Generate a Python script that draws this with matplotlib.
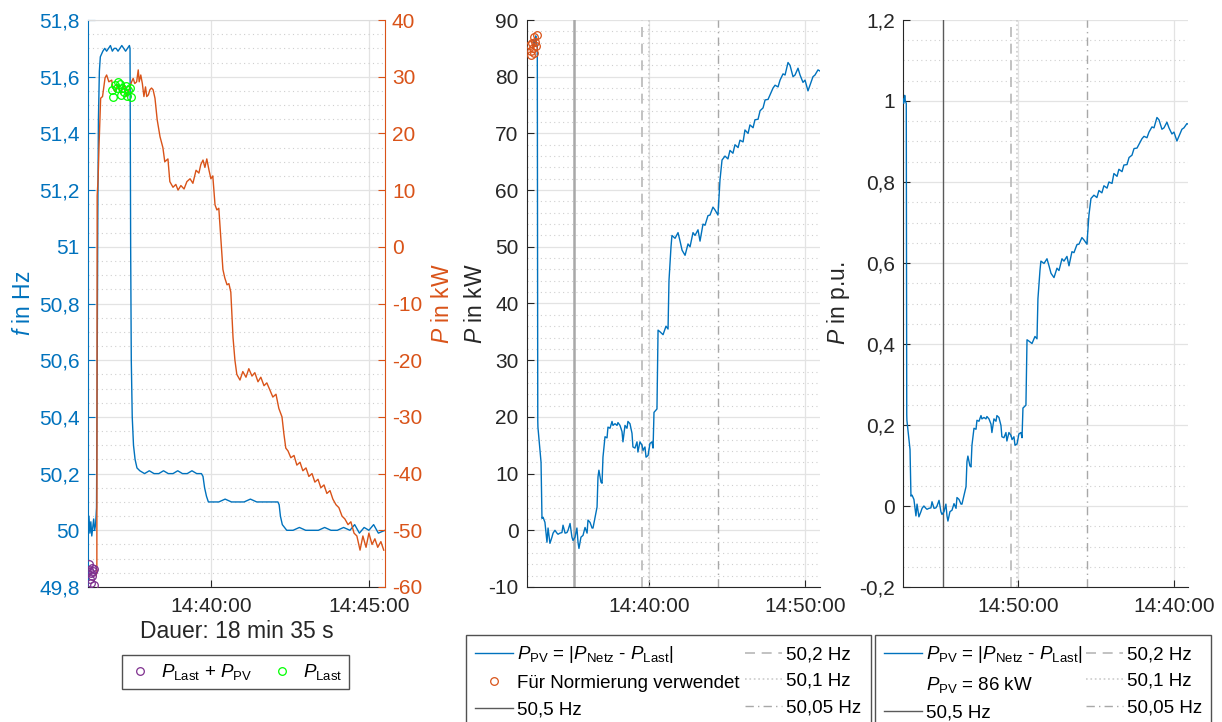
import matplotlib
matplotlib.use('Agg')
import matplotlib.pyplot as plt
from matplotlib.lines import Line2D
from matplotlib.ticker import MultipleLocator

plt.rcParams['font.family'] = ['Liberation Sans', 'DejaVu Sans']
plt.rcParams['mathtext.fontset'] = 'custom'
plt.rcParams['mathtext.rm'] = 'Liberation Sans'
plt.rcParams['mathtext.it'] = 'Liberation Sans:italic'
plt.rcParams['mathtext.bf'] = 'Liberation Sans:bold'

# ---------------- data (time in minutes after 14:00) ----------------
f_time = [36.11, 36.14, 36.17, 36.20, 36.23, 36.26, 36.29, 36.32, 36.35, 36.38,
          36.40, 36.42, 36.44, 36.47, 36.50, 36.54, 36.58, 36.64, 36.70, 36.76,
          36.82, 36.88, 36.94, 37.00, 37.06, 37.12, 37.18, 37.24, 37.30, 37.36,
          37.42, 37.44, 37.46, 37.48, 37.51, 37.55, 37.60, 37.66, 37.75, 37.90,
          38.05, 38.20, 38.35, 38.50, 38.65, 38.80, 38.95, 39.10, 39.25, 39.40,
          39.55, 39.70, 39.75, 39.80, 39.86, 39.92, 40.05, 40.25, 40.45, 40.65,
          40.85, 41.05, 41.25, 41.45, 41.65, 41.85, 42.05, 42.12, 42.16, 42.20,
          42.26, 42.33, 42.40, 42.60, 42.80, 43.00, 43.20, 43.40, 43.60, 43.80,
          44.00, 44.20, 44.40, 44.55, 44.70, 44.85, 45.00, 45.15, 45.30, 45.51]
f_hz = [50.02, 50.05, 49.99, 50.03, 49.98, 50.01, 50.04, 50.00, 50.02, 50.08,
        50.55, 51.10, 51.45, 51.62, 51.67, 51.68, 51.69, 51.70, 51.69, 51.70,
        51.71, 51.69, 51.70, 51.70, 51.69, 51.70, 51.71, 51.70, 51.69, 51.70,
        51.71, 51.70, 51.00, 50.60, 50.40, 50.30, 50.25, 50.22, 50.21, 50.20,
        50.21, 50.20, 50.20, 50.21, 50.20, 50.20, 50.21, 50.20, 50.20, 50.21,
        50.20, 50.20, 50.19, 50.15, 50.12, 50.10, 50.10, 50.10, 50.11, 50.10,
        50.10, 50.10, 50.11, 50.10, 50.10, 50.10, 50.10, 50.10, 50.09, 50.05,
        50.02, 50.01, 50.00, 50.00, 50.01, 50.00, 50.00, 50.00, 50.01, 50.00,
        50.00, 50.01, 50.00, 50.02, 49.99, 50.01, 50.00, 50.02, 49.99, 50.00]

p_time = [36.36, 36.39, 36.40, 36.43, 36.46, 36.51, 36.57, 36.65, 36.70, 36.77,
          36.86, 36.90, 36.96, 37.06, 37.15, 37.25, 37.34, 37.44, 37.49, 37.54,
          37.59, 37.65, 37.70, 37.73, 37.78, 37.83, 37.88, 37.93, 37.97, 38.02,
          38.07, 38.12, 38.17, 38.23, 38.30, 38.39, 38.48, 38.54, 38.64, 38.70,
          38.80, 38.89, 38.96, 39.05, 39.15, 39.24, 39.34, 39.43, 39.53, 39.62,
          39.68, 39.75, 39.81, 39.87, 39.94, 40.00, 40.06, 40.13, 40.19, 40.25,
          40.32, 40.38, 40.44, 40.51, 40.57, 40.63, 40.70, 40.76, 40.82, 40.92,
          41.01, 41.11, 41.20, 41.30, 41.39, 41.49, 41.58, 41.68, 41.77, 41.87,
          41.96, 42.06, 42.15, 42.25, 42.31, 42.37, 42.44, 42.53, 42.63, 42.72,
          42.82, 42.91, 43.01, 43.10, 43.20, 43.29, 43.39, 43.48, 43.58, 43.67,
          43.77, 43.86, 43.96, 44.05, 44.15, 44.24, 44.34, 44.43, 44.53, 44.62,
          44.72, 44.81, 44.91, 45.00, 45.10, 45.19, 45.28, 45.38, 45.47]
p_kw = [-58.0, -57.5, 9.0, 12.0, 18.0, 26.2, 26.5, 29.8, 30.3, 29.1,
        29.4, 28.0, 27.4, 28.5, 27.0, 28.8, 26.5, 28.2, 29.1, 29.7,
        28.8, 29.1, 31.2, 29.1, 30.3, 28.8, 26.5, 28.2, 26.5, 26.8,
        27.7, 28.0, 27.7, 26.2, 22.4, 19.4, 17.5, 15.0, 15.5, 11.5,
        10.5, 11.0, 10.0, 10.8, 10.2, 11.5, 12.0, 11.2, 13.5, 13.0,
        14.5, 15.3, 14.0, 15.5, 13.5, 12.0, 12.5, 7.4, 6.5, 6.8,
        1.0, -4.0, -5.5, -6.7, -6.5, -8.0, -16.0, -20.0, -22.5, -23.5,
        -22.0, -23.0, -21.5, -22.8, -22.2, -23.8, -23.0, -24.5, -24.0, -25.3,
        -26.5, -26.0, -28.5, -30.0, -33.0, -35.5, -36.0, -37.2, -36.8, -38.5,
        -38.0, -39.5, -39.0, -40.5, -40.0, -41.5, -41.0, -42.5, -42.0, -43.5,
        -43.0, -44.5, -45.5, -46.0, -47.5, -48.0, -49.0, -48.5, -50.5, -51.0,
        -53.5, -51.0, -53.0, -50.5, -52.5, -51.5, -53.0, -52.0, -53.5]

sum_time = [36.13, 36.15, 36.17, 36.19, 36.21, 36.23, 36.25, 36.27, 36.29, 36.31]
sum_kw = [-57.0, -55.9, -58.6, -57.5, -59.3, -56.6, -58.0, -57.2, -59.6, -56.8]

last_time = [36.87, 36.90, 36.96, 37.03, 37.06, 37.12, 37.15, 37.18, 37.25, 37.31, 37.34, 37.37, 37.44, 37.47]
last_kw = [27.7, 26.4, 28.5, 28.0, 29.1, 28.7, 26.8, 28.0, 27.3, 28.4, 26.6, 27.7, 28.0, 26.4]

pv_time = [32.55, 32.62, 32.68, 32.74, 32.78, 32.84, 32.87, 32.88, 32.95, 33.08,
           33.14, 33.21, 33.33, 33.46, 33.53, 33.65, 33.78, 33.85, 33.97, 34.10,
           34.17, 34.29, 34.42, 34.49, 34.62, 34.74, 34.81, 34.94, 35.06, 35.13,
           35.26, 35.38, 35.45, 35.51, 35.64, 35.77, 35.90, 36.03, 36.09, 36.22,
           36.35, 36.41, 36.54, 36.67, 36.73, 36.79, 36.92, 36.99, 37.05, 37.18,
           37.31, 37.37, 37.50, 37.63, 37.69, 37.82, 37.95, 38.01, 38.14, 38.27,
           38.33, 38.46, 38.59, 38.65, 38.78, 38.91, 38.97, 39.10, 39.23, 39.29,
           39.42, 39.55, 39.62, 39.74, 39.81, 39.94, 40.06, 40.19, 40.26, 40.32,
           40.51, 40.58, 40.71, 40.90, 41.09, 41.22, 41.28, 41.41, 41.47, 41.67,
           41.86, 41.99, 42.12, 42.31, 42.50, 42.63, 42.82, 42.95, 43.14, 43.27,
           43.46, 43.59, 43.78, 43.91, 44.10, 44.23, 44.42, 44.55, 44.68, 44.87,
           45.06, 45.19, 45.38, 45.51, 45.71, 45.83, 46.03, 46.15, 46.35, 46.47,
           46.67, 46.79, 46.99, 47.12, 47.31, 47.44, 47.63, 47.76, 47.95, 48.08,
           48.27, 48.40, 48.59, 48.72, 48.91, 49.04, 49.23, 49.36, 49.55, 49.68,
           49.87, 50.00, 50.19, 50.32, 50.51, 50.64, 50.83, 50.96]
pv_kw = [85.0, 86.5, 85.5, 87.2, 86.0, 85.5, 19.4, 18.2, 16.0, 12.0,
         2.1, 2.3, 1.4, -2.1, 0.4, -2.3, -1.2, -0.5, 0.0, -0.5,
         -0.7, -0.5, -0.4, 0.9, -0.5, -0.4, 0.0, 1.2, -1.2, -1.8,
         -1.2, 0.4, -2.1, -3.2, -1.2, -0.9, 0.5, -0.5, 1.8, 1.4,
         0.4, 0.4, 2.3, 4.1, 9.4, 10.6, 8.5, 8.3, 12.9, 16.5,
         16.3, 18.2, 18.0, 19.2, 18.5, 18.8, 18.5, 19.0, 18.5, 17.4,
         15.6, 18.5, 18.0, 19.2, 18.8, 17.1, 14.7, 14.5, 15.6, 13.8,
         15.6, 15.0, 14.1, 14.7, 12.9, 13.2, 15.3, 15.6, 14.5, 20.8,
         21.4, 35.3, 35.0, 34.5, 36.0, 35.5, 44.0, 50.0, 52.0, 51.5,
         52.5, 51.0, 49.4, 48.5, 50.5, 50.0, 52.5, 52.0, 53.0, 51.0,
         54.0, 53.8, 55.5, 55.6, 57.0, 56.5, 55.6, 61.8, 65.3, 66.0,
         65.5, 67.0, 66.5, 68.0, 67.5, 68.8, 68.5, 70.6, 70.0, 71.5,
         71.0, 72.4, 72.5, 74.0, 74.5, 75.9, 76.0, 76.8, 78.0, 78.5,
         78.2, 79.4, 80.5, 80.3, 82.5, 82.0, 80.0, 80.3, 81.5, 80.3,
         79.0, 79.4, 77.5, 78.5, 80.0, 80.3, 81.2, 81.0]

norm_time = [32.40, 32.42, 32.45, 32.52, 32.58, 32.60, 32.65, 32.70, 32.75, 32.80]
norm_kw = [85.6, 83.8, 84.5, 86.0, 85.0, 84.2, 87.0, 86.2, 85.5, 87.4]

P_NORM = 86.0  # kW

event_labels = ['50,5 Hz', '50,2 Hz', '50,1 Hz', '50,05 Hz']
event_time = [35.19, 39.57, 39.97, 44.45]

f_ticks = [49.8, 50.0, 50.2, 50.4, 50.6, 50.8, 51.0, 51.2, 51.4, 51.6, 51.8]
f_ticklabels = ['49,8', '50', '50,2', '50,4', '50,6', '50,8', '51', '51,2', '51,4', '51,6', '51,8']
p_left_ticks = [-60, -50, -40, -30, -20, -10, 0, 10, 20, 30, 40]
mid_ticks = [-10, 0, 10, 20, 30, 40, 50, 60, 70, 80, 90]
pu_ticks = [-0.2, 0.0, 0.2, 0.4, 0.6, 0.8, 1.0, 1.2]
pu_ticklabels = ['-0,2', '0', '0,2', '0,4', '0,6', '0,8', '1', '1,2']

left_xticks = [40, 45]
left_xticklabels = ['14:40:00', '14:45:00']
mid_xticks = [40, 50]
mid_xticklabels = ['14:40:00', '14:50:00']
right_xticks = [40, 50]
right_xticklabels = ['14:50:00', '14:40:00']

# ---------------- style ----------------
BLUE = '#0072BD'
ORANGE = '#D95319'
PURPLE = '#7E2F8E'
GREEN = '#00FF00'
DARK = '#262626'
GRID = '#e3e3e3'
MINOR = '#cfcfcf'
TICK_FS = 15
LABEL_FS = 16.5
LEG_FS = 13.5

W, H = 1222, 722
fig = plt.figure(figsize=(W / 100, H / 100), dpi=100)


def box(x0, x1, y0=20, y1=587):
    return [x0 / W, 1 - y1 / H, (x1 - x0) / W, (y1 - y0) / H]


ax1 = fig.add_axes(box(88, 385))
ax1r = ax1.twinx()
ax2 = fig.add_axes(box(527, 820))
ax3 = fig.add_axes(box(903, 1188))

# ---------------- left panel ----------------
ax1.plot(f_time, f_hz, color=BLUE, lw=1.0)
ax1r.plot(p_time, p_kw, color=ORANGE, lw=1.0)
h_sum, = ax1r.plot(sum_time, sum_kw, ls='none', marker='o', ms=5.5, mfc='none', mec=PURPLE, mew=0.9)
h_last, = ax1r.plot(last_time, last_kw, ls='none', marker='o', ms=5.5, mfc='none', mec=GREEN, mew=0.9)

ax1.set_xlim(36.11, 45.51)
ax1.set_ylim(49.8, 51.8)
ax1r.set_ylim(-60, 40)
ax1.set_yticks(f_ticks)
ax1.set_yticklabels(f_ticklabels)
ax1r.set_yticks(p_left_ticks)
ax1r.set_yticklabels([str(v) for v in p_left_ticks])
ax1.set_xticks(left_xticks)
ax1.set_xticklabels(left_xticklabels)
ax1.yaxis.set_minor_locator(MultipleLocator(0.05))
ax1.set_axisbelow(True)
ax1.grid(True, which='major', color=GRID, lw=0.9)
ax1.grid(True, which='minor', axis='y', color=MINOR, lw=0.8, ls=(0, (1, 3)))
ax1.tick_params(axis='y', which='major', direction='in', length=5, colors=BLUE, labelsize=TICK_FS, pad=6)
ax1.tick_params(axis='x', which='major', direction='in', length=5, color=DARK, labelcolor=DARK, labelsize=TICK_FS, pad=7)
ax1.tick_params(which='minor', length=0)
ax1r.tick_params(axis='y', direction='in', length=5, colors=ORANGE, labelsize=TICK_FS, pad=5)
ax1.spines['left'].set_color(BLUE)
ax1.spines['right'].set_visible(False)
ax1.spines['top'].set_color('#dcdcdc')
ax1.spines['bottom'].set_color(DARK)
ax1r.spines['right'].set_color(ORANGE)
for s in ('left', 'top', 'bottom'):
    ax1r.spines[s].set_visible(False)
ax1.set_ylabel(r'$f$ in Hz', color=BLUE, fontsize=LABEL_FS)
ax1.yaxis.set_label_coords(-0.18, 0.5)
ax1r.set_ylabel(r'$P$ in kW', color=ORANGE, fontsize=LABEL_FS)
ax1r.yaxis.set_label_coords(1.155, 0.5)
ax1.set_xlabel('Dauer: 18 min 35 s', color=DARK, fontsize=LABEL_FS)
ax1.xaxis.set_label_coords(0.5, -0.058)

fig.legend([h_sum, h_last],
           [r'$P_{\mathrm{Last}}$ + $P_{\mathrm{PV}}$', r'$P_{\mathrm{Last}}$'],
           loc='upper left', bbox_to_anchor=(122 / W, 1 - 655 / H), ncol=2,
           fontsize=LEG_FS, frameon=True, fancybox=False, edgecolor=DARK,
           handlelength=1.2, handletextpad=0.5, columnspacing=1.0,
           borderpad=0.38, borderaxespad=0)

# ---------------- middle & right panels ----------------
ev_styles = [dict(ls='-', color='#a8a8a8', lw=1.8),
             dict(ls=(0, (6, 4)), color='#b8b8b8', lw=1.2),
             dict(ls=':', color='#cccccc', lw=1.2),
             dict(ls=(0, (6, 3, 1, 3)), color='#a8a8a8', lw=1.0)]
ev_styles_r = [dict(ls='-', color='#5a5a5a', lw=1.0)] + ev_styles[1:]

pv_pu = [v / P_NORM for v in pv_kw]


def style_panel(ax, xlim, ylim, yticks, yticklabels, minor, xticks, xticklabels, ylabel, label_x):
    ax.set_xlim(*xlim)
    ax.set_ylim(*ylim)
    ax.set_yticks(yticks)
    ax.set_yticklabels(yticklabels)
    ax.set_xticks(xticks)
    ax.set_xticklabels(xticklabels)
    ax.yaxis.set_minor_locator(MultipleLocator(minor))
    ax.set_axisbelow(True)
    ax.grid(True, which='major', color=GRID, lw=0.9)
    ax.grid(True, which='minor', axis='y', color=MINOR, lw=0.8, ls=(0, (1, 3)))
    ax.tick_params(which='major', direction='in', length=5, color=DARK, labelcolor=DARK, labelsize=TICK_FS)
    ax.tick_params(axis='x', pad=7)
    ax.tick_params(axis='y', pad=6)
    ax.tick_params(which='minor', length=0)
    ax.spines['top'].set_visible(False)
    ax.spines['right'].set_visible(False)
    ax.spines['left'].set_color(DARK)
    ax.spines['bottom'].set_color(DARK)
    ax.set_ylabel(ylabel, color=DARK, fontsize=LABEL_FS)
    ax.yaxis.set_label_coords(label_x, 0.5)


h_pv, = ax2.plot(pv_time, pv_kw, color=BLUE, lw=1.0, zorder=3)
h_norm, = ax2.plot(norm_time, norm_kw, ls='none', marker='o', ms=5.5, mfc='none', mec=ORANGE, mew=0.9, zorder=4)
ev_handles = []
for t, st in zip(event_time, ev_styles):
    ev_handles.append(ax2.axvline(t, zorder=2, **st))
style_panel(ax2, (32.18, 50.96), (-10, 90), mid_ticks, [str(v) for v in mid_ticks], 2,
            mid_xticks, mid_xticklabels, r'$P$ in kW', -0.135)

h_pv3, = ax3.plot(pv_time, pv_pu, color=BLUE, lw=1.0, zorder=3)
ev_handles3 = []
for t, st in zip(event_time, ev_styles_r):
    ev_handles3.append(ax3.axvline(t, zorder=2, **st))
style_panel(ax3, (32.63, 50.9), (-0.2, 1.2), pu_ticks, pu_ticklabels, 0.05,
            right_xticks, right_xticklabels, r'$P$ in p.u.', -0.18)

pv_label = r'$P_{\mathrm{PV}}$ = |$P_{\mathrm{Netz}}$ - $P_{\mathrm{Last}}$|'
leg_h_505 = Line2D([], [], color='#5a5a5a', lw=1.0)

fig.legend([h_pv, h_norm, leg_h_505] + ev_handles[1:],
           [pv_label, 'Für Normierung verwendet'] + event_labels,
           loc='upper left', bbox_to_anchor=(466 / W, 1 - 635 / H), ncol=2,
           fontsize=LEG_FS, frameon=True, fancybox=False, edgecolor=DARK,
           handlelength=2.0, handletextpad=0.2, columnspacing=0.3,
           labelspacing=0.5, borderpad=0.5, borderaxespad=0)

fig.legend([h_pv3, Line2D([], [], color='none'), ev_handles3[0]] + ev_handles3[1:],
           [pv_label, r'$P_{\mathrm{PV}}$ = 86 kW'] + event_labels,
           loc='upper left', bbox_to_anchor=(875 / W, 1 - 635 / H), ncol=2,
           fontsize=LEG_FS, frameon=True, fancybox=False, edgecolor=DARK,
           handlelength=2.0, handletextpad=0.2, columnspacing=0.2,
           labelspacing=0.5, borderpad=0.5, borderaxespad=0)

fig.savefig('out.png', dpi=100)
